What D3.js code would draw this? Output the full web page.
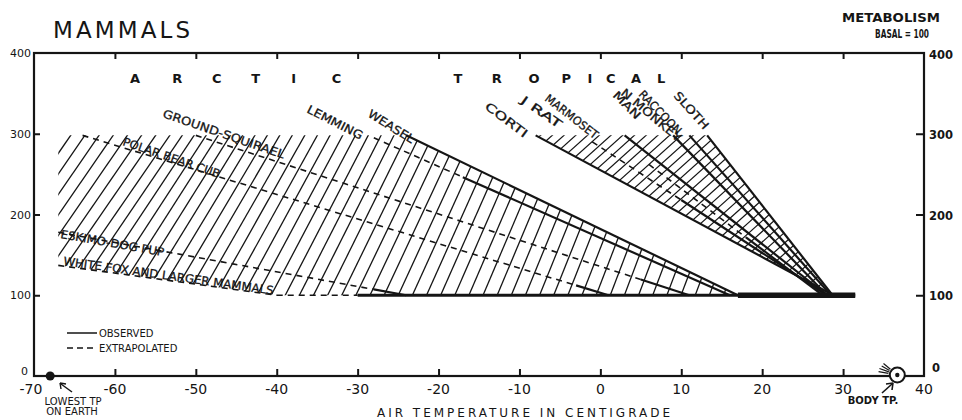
<!DOCTYPE html>
<html><head><meta charset="utf-8">
<script src="https://cdn.jsdelivr.net/npm/d3@7"></script>
<style>body{margin:0;background:#fff}svg{display:block}</style>
</head><body><svg id="c" width="962" height="420"></svg>
<script>
// ---------- data ----------
const xTicks = [-70,-60,-50,-40,-30,-20,-10,0,10,20,30,40];
const yTicks = [0,100,200,300,400];
const lineNames   = ["WHITE FOX AND LARGER MAMMALS","ESKIMO-DOG PUP","POLAR BEAR CUB","GROUND-SQUIRAEL","LEMMING","WEASEL","CORTI","J RAT","MARMOSET","MAN","N MONKEY","RACCOON","SLOTH"];
const lineStartT  = [-67,-67,-64,-50,-28,-24,-8,-1,3,6,9,11,13.2];
const lineStartM  = [137,178,298,298,295,298,298,290,298,262,298,298,298];
const lineEndT    = [-40,-24,1,11,16,17,28.8,28,28,27.5,28,28.5,28.7];   // where metabolism reaches basal 100
const lineSolidT  = [-40,-28,-3,5,-17,-24,-8,10,3,18,9,11,13.2];         // observed (solid) from this temperature on
const basalM = 100;
const basalDashFrom = -40, basalSolidFrom = -30, basalHeavyFrom = 17, basalEnd = 31.5;
const bodyTemp = 36.7, lowestTemp = -68;
const arcticLetters = ["A","R","C","T","I","C"];
const arcticLetterT = [-57.5,-52.3,-47.4,-42.6,-37.9,-32.6];
const tropicalLetters = ["T","R","O","P","I","C","A","L"];
const tropicalLetterT = [-17.6,-12.8,-8.2,-4.2,-1.3,1.3,4.4,7.5];

// ---------- scales ----------
const x = d3.scaleLinear().domain([-70,40]).range([34,924]);
const y = d3.scaleLinear().domain([0,400]).range([376,53]);
const svg = d3.select("#c");
const INK = "#151515";
const FONT = "'DejaVu Sans', sans-serif";
const CFONT = "'DejaVu Sans Condensed', 'DejaVu Sans', sans-serif";

const defs = svg.append("defs");

// ---------- frame & axes ----------
svg.append("rect").attr("x",x(-70)).attr("y",y(400)).attr("width",x(40)-x(-70)).attr("height",y(0)-y(400))
  .attr("fill","none").attr("stroke",INK).attr("stroke-width",2.2);

const xb = d3.axisBottom(x).tickValues(xTicks.slice(1,-1)).tickSize(-7).tickFormat("");
svg.append("g").attr("transform",`translate(0,${y(0)})`).call(xb).call(g=>{g.select(".domain").remove();g.selectAll("line").attr("stroke",INK).attr("stroke-width",2);});
const xt = d3.axisTop(x).tickValues(xTicks.slice(1,-1)).tickSize(-6).tickFormat("");
svg.append("g").attr("transform",`translate(0,${y(400)})`).call(xt).call(g=>{g.select(".domain").remove();g.selectAll("line").attr("stroke",INK).attr("stroke-width",2);});
const yl = d3.axisLeft(y).tickValues(yTicks.slice(1,-1)).tickSize(-6).tickFormat("");
svg.append("g").attr("transform",`translate(${x(-70)},0)`).call(yl).call(g=>{g.select(".domain").remove();g.selectAll("line").attr("stroke",INK).attr("stroke-width",2);});
const yr = d3.axisRight(y).tickValues(yTicks.slice(1,-1)).tickSize(-8).tickFormat("");
svg.append("g").attr("transform",`translate(${x(40)},0)`).call(yr).call(g=>{g.select(".domain").remove();g.selectAll("line").attr("stroke",INK).attr("stroke-width",2);});

// tick labels
svg.append("g").selectAll("text").data(xTicks).join("text")
  .attr("x",d=>x(d)+(d===-70?-3:0)).attr("y",394).attr("text-anchor","middle")
  .attr("font-family",FONT).attr("font-size",14).attr("fill",INK)
  .text(d=>d<0?"-"+Math.abs(d):d);
svg.append("g").selectAll("text").data(yTicks).join("text")
  .attr("x",d=>d===0?28:31).attr("y",d=>y(d)+(d===0?-1:4)).attr("text-anchor","end")
  .attr("font-family",FONT).attr("font-size",11).attr("fill",INK).text(d=>d);
svg.append("g").selectAll("text").data(yTicks).join("text")
  .attr("x",d=>d===0?932:929).attr("y",d=>y(d)+(d===400?6:d===0?-4:5)).attr("text-anchor","start")
  .attr("font-family",FONT).attr("font-size",11.5).attr("font-weight","bold").attr("fill",INK).text(d=>d);

// ---------- titles ----------
svg.append("text").attr("x",53).attr("y",38).attr("font-family",FONT).attr("font-size",23)
  .attr("letter-spacing",2).attr("fill",INK).attr("textLength",139).text("MAMMALS");
svg.append("text").attr("x",842).attr("y",22).attr("font-family",FONT)
  .attr("font-size",13).attr("font-weight","bold").attr("fill",INK)
  .attr("textLength",98).attr("lengthAdjust","spacingAndGlyphs").text("METABOLISM");
svg.append("text").attr("x",875).attr("y",38).attr("font-family",CFONT)
  .attr("font-size",13).attr("font-weight","bold").attr("fill",INK)
  .attr("textLength",54).attr("lengthAdjust","spacingAndGlyphs").text("BASAL = 100");

svg.append("g").selectAll("text").data(arcticLetters).join("text")
  .attr("x",(d,i)=>x(arcticLetterT[i])).attr("y",83).attr("text-anchor","middle")
  .attr("font-family",FONT).attr("font-size",13).attr("font-weight","bold").attr("fill",INK).text(d=>d);
svg.append("g").selectAll("text").data(tropicalLetters).join("text")
  .attr("x",(d,i)=>x(tropicalLetterT[i])).attr("y",83).attr("text-anchor","middle")
  .attr("font-family",FONT).attr("font-size",13).attr("font-weight","bold").attr("fill",INK).text(d=>d);

svg.append("text").attr("x",377).attr("y",417).attr("font-family",FONT).attr("font-size",12)
  .attr("fill",INK).attr("textLength",293).attr("lengthAdjust","spacing").text("AIR TEMPERATURE IN CENTIGRADE");

// ---------- hatching ----------
const lineFn = i => t => lineStartM[i] + (basalM - lineStartM[i]) * (t - lineStartT[i]) / (lineEndT[i] - lineStartT[i]);
const iFox = 0, iWeasel = 5, iCoati = 6, iSloth = 12;

const arcticPoly = [
  [x(lineStartT[iFox]), y(lineStartM[iFox])],
  [x(lineStartT[iFox]), y(298)],
  [x(lineStartT[iWeasel]), y(lineStartM[iWeasel])],
  [x(lineEndT[iWeasel]), y(basalM)],
  [x(lineEndT[iFox]), y(basalM)]
];
defs.append("clipPath").attr("id","clipA").append("path").attr("d","M"+arcticPoly.join("L")+"Z");
const tropPoly = [
  [x(lineStartT[iCoati]), y(lineStartM[iCoati])],
  [x(lineStartT[iSloth]), y(lineStartM[iSloth])],
  [x(lineEndT[iSloth]), y(basalM)],
  [x(lineEndT[iCoati]), y(basalM)]
];
defs.append("clipPath").attr("id","clipT").append("path").attr("d","M"+tropPoly.join("L")+"Z");

// arctic hatch: steep lines leaning right, steeper towards the warm side
const hA = svg.append("g").attr("clip-path","url(#clipA)");
d3.range(-90, 20, 1.75).forEach(t=>{
  const px = x(t), f = Math.max(0,Math.min(1,(px-60)/560));
  const s = 1.45 + 1.2*f;
  const y0 = 300, y1 = 120;
  hA.append("line").attr("x1",px).attr("y1",y0).attr("x2",px+(y0-y1)/s).attr("y2",y1)
    .attr("stroke",INK).attr("stroke-width",1.3);
});
// tropical hatch: lines rising to the right across the wedge
const hT = svg.append("g").attr("clip-path","url(#clipT)");
d3.range(-45, 40, 1.45).forEach(t=>{
  const px = x(t);
  hT.append("line").attr("x1",px).attr("y1",y(basalM)+40).attr("x2",px+400).attr("y2",y(basalM)+40-0.9*400)
    .attr("stroke",INK).attr("stroke-width",1.2);
});

// ---------- metabolism lines ----------
const gL = svg.append("g");
lineNames.forEach((n,i)=>{
  const f = lineFn(i);
  const t0 = lineStartT[i], t1 = lineEndT[i], ts = Math.max(t0, Math.min(t1, lineSolidT[i]));
  if (ts > t0) gL.append("line").attr("x1",x(t0)).attr("y1",y(f(t0))).attr("x2",x(ts)).attr("y2",y(f(ts)))
      .attr("stroke",INK).attr("stroke-width",1.6).attr("stroke-dasharray","6,5");
  if (t1 > ts) gL.append("line").attr("x1",x(ts)).attr("y1",y(f(ts))).attr("x2",x(t1)).attr("y2",y(basalM))
      .attr("stroke",INK).attr("stroke-width",2.2);
});
// basal line
gL.append("line").attr("x1",x(basalDashFrom)).attr("x2",x(basalSolidFrom)).attr("y1",y(basalM)).attr("y2",y(basalM))
  .attr("stroke",INK).attr("stroke-width",1.6).attr("stroke-dasharray","6,5");
gL.append("line").attr("x1",x(basalSolidFrom)).attr("x2",x(basalEnd)).attr("y1",y(basalM)).attr("y2",y(basalM))
  .attr("stroke",INK).attr("stroke-width",3);
gL.append("line").attr("x1",x(basalHeavyFrom)).attr("x2",x(basalEnd)).attr("y1",y(basalM)).attr("y2",y(basalM))
  .attr("stroke",INK).attr("stroke-width",5.5);

// ---------- line labels ----------
const labelX   = [63,60,122,162,306,367,484,520,544,612,620,638,673];
const labelY   = [265,238,145,117,112,116,108,102,100,96,94,95,96];
const labelRot = [8,10,19,19,27,32,37,35,38,45,40,46,48];
const labelLen = [212,105,102,128,61,52,50,47,64,34,75,56,46];
const gT = svg.append("g");
lineNames.forEach((n,i)=>{
  gT.append("text").attr("transform",`translate(${labelX[i]},${labelY[i]}) rotate(${labelRot[i]})`)
    .attr("font-family",FONT).attr("font-size",11.5).attr("fill",INK).attr("stroke",INK).attr("stroke-width",0.3)
    .attr("textLength",labelLen[i]).attr("lengthAdjust","spacingAndGlyphs").text(n);
});

// ---------- legend ----------
svg.append("line").attr("x1",67).attr("x2",97).attr("y1",333).attr("y2",333).attr("stroke",INK).attr("stroke-width",1.5);
svg.append("line").attr("x1",67).attr("x2",97).attr("y1",348).attr("y2",348).attr("stroke",INK).attr("stroke-width",1.5).attr("stroke-dasharray","6,4");
svg.append("text").attr("x",99).attr("y",337).attr("font-family",FONT).attr("font-size",10).attr("fill",INK).text("OBSERVED");
svg.append("text").attr("x",99).attr("y",352).attr("font-family",FONT).attr("font-size",10).attr("fill",INK).text("EXTRAPOLATED");

// ---------- markers ----------
svg.append("circle").attr("cx",x(lowestTemp)).attr("cy",y(0)).attr("r",4.5).attr("fill",INK);
svg.append("line").attr("x1",72).attr("y1",392).attr("x2",61).attr("y2",384).attr("stroke",INK).attr("stroke-width",1.4);
svg.append("path").attr("d","M60,383 L66,384 M60,383 L61,389").attr("stroke",INK).attr("stroke-width",1.4).attr("fill","none");
svg.append("text").attr("x",73).attr("y",405).attr("text-anchor","middle").attr("font-family",FONT).attr("font-size",10).attr("fill",INK).text("LOWEST TP");
svg.append("text").attr("x",72).attr("y",415).attr("text-anchor","middle").attr("font-family",FONT).attr("font-size",10).attr("fill",INK).text("ON EARTH");

svg.append("circle").attr("cx",x(bodyTemp)).attr("cy",y(0)-1).attr("r",7.5).attr("fill","#fff").attr("stroke",INK).attr("stroke-width",2);
svg.append("circle").attr("cx",x(bodyTemp)).attr("cy",y(0)-1).attr("r",2.2).attr("fill",INK);
[[-150,-9],[-160,-10],[-170,-10],[-140,-9]].forEach(([a,l])=>{
  const r=a*Math.PI/180, cx=x(bodyTemp), cy=y(0)-1;
  svg.append("line").attr("x1",cx+9*Math.cos(r)).attr("y1",cy+9*Math.sin(r)).attr("x2",cx+(9-l)*Math.cos(r)).attr("y2",cy+(9-l)*Math.sin(r)).attr("stroke",INK).attr("stroke-width",1.2);
});
svg.append("line").attr("x1",882).attr("y1",393).attr("x2",892).attr("y2",384).attr("stroke",INK).attr("stroke-width",1.6);
svg.append("path").attr("d","M893,383 L886,384 M893,383 L892,390").attr("stroke",INK).attr("stroke-width",1.6).attr("fill","none");
svg.append("text").attr("x",873).attr("y",404).attr("text-anchor","middle").attr("font-family",FONT).attr("font-size",10).attr("font-weight","bold").attr("fill",INK).text("BODY TP.");
</script></body></html>
